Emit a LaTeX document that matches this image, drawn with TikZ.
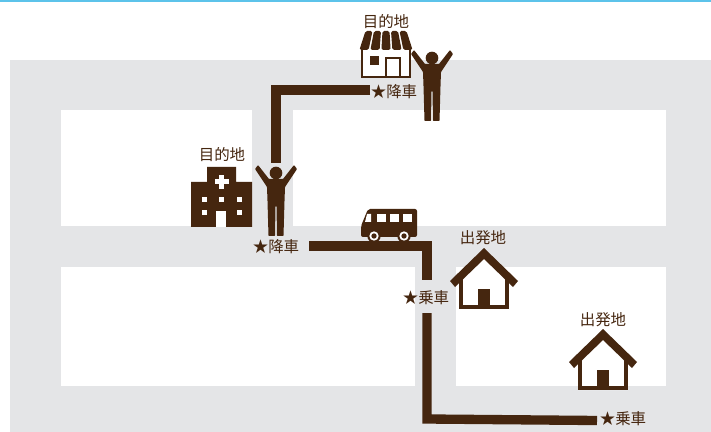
\documentclass[tikz,border=0pt]{standalone}
\usepackage{fontspec}
\setmainfont{Noto Sans CJK JP}
\definecolor{brn}{HTML}{45260F}
\definecolor{road}{HTML}{E4E5E7}
\definecolor{topline}{HTML}{5CC3EA}
\tikzset{
	block/.style={fill=white,draw=none},
	route/.style={draw=brn,line width=.28cm},
	place/.style={text=brn,font=\fontsize{13.2}{14}\selectfont,inner sep=0pt},
	personicon/.pic={
		\fill[brn] (0,0) circle[radius=.19cm];
		\fill[brn,line join=round,rounded corners=.02cm] (-21,-4) -- (-18,-8) -- (-7,6) -- (7,6) -- (18,-8) -- (21,-4)
			-- (9,14) -- (8.5,28) -- (7.5,63) -- (1,63) -- (.5,33) -- (-.5,33) -- (-1,63) -- (-7.5,63)
			-- (-8.5,28) -- (-9,14) -- cycle;
	},
	houseicon/.pic={
		\fill[white] (0,5) -- (-25,30) -- (-25,61) -- (25,61) -- (25,30) -- cycle;
		\draw[brn,line width=.12cm] (-23,30) -- (-23,59) -- (23,59) -- (23,30);
		\fill[brn] (0,0) -- (34,33) -- (29,39) -- (0,11) -- (-29,39) -- (-34,33) -- cycle;
		\fill[brn] (-6,41) rectangle (6,61);
	},
}
\begin{document}
\begin{tikzpicture}[x=.03cm,y=-.03cm]
	\useasboundingbox (0,0) rectangle (711,432);
	% roads and blocks
	\fill[topline] (0,0) rectangle (711,2);
	\fill[road] (10,60) rectangle (711,432);
	\fill[block] (61,110) rectangle (252,226);
	\fill[block] (293,110) rectangle (666,226);
	\fill[block] (61,267) rectangle (415,386);
	\fill[block] (456,267) rectangle (666,386);
	% routes
	\coordinate (shopend) at (370,90);
	\coordinate (turnA) at (276,90);
	\coordinate (personend) at (276,163);
	\coordinate (busstart) at (309,246);
	\coordinate (turnB) at (427,246);
	\coordinate (gapA) at (427,280);
	\coordinate (gapB) at (427,313);
	\coordinate (turnC) at (427,419);
	\coordinate (homeend) at (597,420.5);
	\draw[route] (shopend) -- (turnA) -- (personend);
	\draw[route] (busstart) -- (turnB) -- (gapA);
	\draw[route] (gapB) -- (turnC) -- (homeend);
	% shop
	\fill[white] (361,45) rectangle (410,78);
	\draw[brn,line width=.06cm] (361.5,44) -- (361.5,77) -- (409.5,77) -- (409.5,44);
	\fill[brn] (370,56) rectangle (379,65);
	\draw[brn,line width=.07cm] (386,78) -- (386,58) -- (400,58) -- (400,78);
	\foreach \xa/\xb in {369/364,377.5/375,386/386,394.5/397,403/408}
		\fill[brn,rounded corners=.05cm] (\xa-3.5,31) -- (\xa+3.5,31) -- (\xb+4.6,50) -- (\xb-4.6,50) -- cycle;
	% hospital
	\fill[brn] (207,167) -- (236,167) -- (236,182) -- (252,182) -- (252,227) -- (191,227) -- (191,182) -- (207,182) -- cycle;
	\fill[white] (219,175) rectangle (224,189);
	\fill[white] (214.5,179.5) rectangle (228.5,184.5);
	\foreach \wx/\wy in {204/200,221/200,239/200,204/213,239/213}
		\fill[white] (\wx-2.5,\wy-2.5) rectangle (\wx+2.5,\wy+2.5);
	\fill[white] (216,211) rectangle (226,227);
	% bus
	\fill[brn,rounded corners=.06cm] (368,209) -- (417,209) -- (417,237) -- (361,237) -- (361,226) -- cycle;
	\foreach \wx in {377,390,403}
		\fill[white] (\wx,214) rectangle (\wx+9,222);
	\fill[white] (367,214) -- (371,214) -- (371,222) -- (365,222) -- cycle;
	\foreach \wx in {374,404} {
		\fill[brn] (\wx,236) circle[radius=.2cm];
		\fill[white] (\wx,236) circle[radius=.14cm];
		\fill[brn] (\wx,236) circle[radius=.08cm];
	}
	% people and houses
	\pic at (432,58) {personicon};
	\pic at (276,173) {personicon};
	\pic at (484,248) {houseicon};
	\pic at (603,329) {houseicon};
	% labels
	\node[place] (shoplabel) at (386,22) {目的地};
	\node[place] (hosplabel) at (222,155) {目的地};
	\node[place] (homelabelA) at (483,238) {出発地};
	\node[place] (homelabelB) at (603,320) {出発地};
	\node[place] (getoffA) at (394,92) {★降車};
	\node[place] (getoffB) at (276,247) {★降車};
	\node[place] (getonA) at (426,298) {★乗車};
	\node[place] (getonB) at (623,419) {★乗車};
\end{tikzpicture}
\end{document}
